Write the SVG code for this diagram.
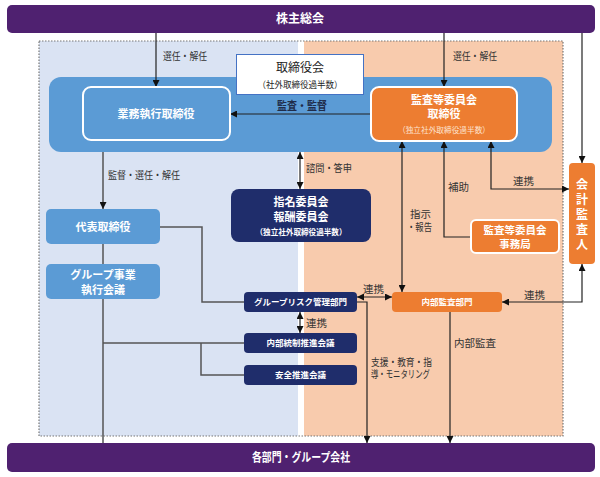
<svg xmlns="http://www.w3.org/2000/svg" width="600" height="477" viewBox="0 0 600 477">
<defs>
<marker id="ah" viewBox="0 0 10 10" refX="10" refY="5" markerWidth="7" markerHeight="7" markerUnits="userSpaceOnUse" orient="auto-start-reverse"><path d="M0,0 L10,5 L0,10 z" fill="#111"/></marker>
<style>
text{font-family:"Noto Sans CJK JP","Noto Sans",sans-serif;}
.bar{fill:#4f2170;}
.bt{fill:#fff;font-weight:bold;font-size:12px;text-anchor:middle;}
.wt{fill:#fff;font-weight:bold;text-anchor:middle;}
.lbl{fill:#333;font-size:10.5px;}
.ln{fill:none;stroke:#222;stroke-width:1.2;}
.gl{fill:none;stroke:#555;stroke-width:1.5;}
.blue{fill:#5b9bd5;}
.org{fill:#ed7d31;}
.navy{fill:#1f2d6b;}
</style>
</defs>
<rect width="600" height="477" fill="#fff"/>
<rect x="39" y="41" width="259" height="395" fill="#dae3f3"/>
<rect x="304" y="41" width="259" height="395" fill="#f8cbad"/>
<rect x="39" y="41" width="524" height="395" fill="none" stroke="#777" stroke-width="1.2" stroke-dasharray="1.5,1.5"/>
<rect x="49" y="77" width="503" height="75" rx="12" class="blue"/>

<g id="connectors">
<line class="ln" x1="156" y1="33" x2="156" y2="87" marker-end="url(#ah)"/>
<line class="ln" x1="444" y1="33" x2="444" y2="87" marker-end="url(#ah)"/>
<line class="ln" x1="582" y1="33" x2="582" y2="163" marker-end="url(#ah)"/>
<line class="ln" x1="371" y1="114" x2="230" y2="114" marker-end="url(#ah)"/>
<line class="ln" x1="300" y1="152" x2="300" y2="189" marker-start="url(#ah)" marker-end="url(#ah)"/>
<line class="gl" x1="103" y1="152" x2="103" y2="209" marker-end="url(#ah)"/>
<line class="ln" x1="402" y1="141" x2="402" y2="292" marker-start="url(#ah)" marker-end="url(#ah)"/>
<polyline class="ln" points="471,237 444,237 444,141" marker-end="url(#ah)"/>
<polyline class="ln" points="491,141 491,189 569,189" marker-start="url(#ah)" marker-end="url(#ah)"/>
<polyline class="ln" points="582,264 582,302 502,302" marker-start="url(#ah)" marker-end="url(#ah)"/>
<line class="ln" x1="357" y1="297" x2="392" y2="297" marker-start="url(#ah)" marker-end="url(#ah)"/>
<line class="ln" x1="300" y1="312" x2="300" y2="333" marker-start="url(#ah)" marker-end="url(#ah)"/>
<polyline class="ln" points="357,302 367,302 367,443" marker-end="url(#ah)"/>
<line class="ln" x1="450" y1="312" x2="450" y2="443" marker-end="url(#ah)"/>
<line class="gl" x1="103" y1="244" x2="103" y2="264"/>
<line class="gl" x1="103" y1="299" x2="103" y2="443"/>
<polyline class="gl" points="160,227 202,227 202,302 244,302"/>
<line class="gl" x1="103" y1="343" x2="244" y2="343"/>
<polyline class="gl" points="201,343 201,375 244,375"/>
</g>

<g id="labels">
<text class="lbl" x="163" y="60" textLength="44" lengthAdjust="spacingAndGlyphs">選任・解任</text>
<text class="lbl" x="453" y="60" textLength="44" lengthAdjust="spacingAndGlyphs">選任・解任</text>
<text x="277" y="110" textLength="50" lengthAdjust="spacingAndGlyphs" style="fill:#1f2d4b;font-size:11px;font-weight:bold">監査・監督</text>
<text class="lbl" x="306" y="172" textLength="46" lengthAdjust="spacingAndGlyphs">諮問・答申</text>
<text class="lbl" x="108" y="179" textLength="72" lengthAdjust="spacingAndGlyphs">監督・選任・解任</text>
<text class="lbl" x="448" y="191">補助</text>
<text class="lbl" x="513" y="185">連携</text>
<text class="lbl" x="410" y="218" font-size="10">指示</text>
<text class="lbl" x="407" y="231" font-size="10" textLength="25" lengthAdjust="spacingAndGlyphs">・報告</text>
<text class="lbl" x="524" y="299">連携</text>
<text class="lbl" x="363" y="293">連携</text>
<text class="lbl" x="306" y="327">連携</text>
<text class="lbl" x="454" y="347">内部監査</text>
<text class="lbl" x="371" y="366" font-size="10" textLength="61" lengthAdjust="spacingAndGlyphs">支援・教育・指</text>
<text class="lbl" x="371" y="378" font-size="10" textLength="59" lengthAdjust="spacingAndGlyphs">導・モニタリング</text>
</g>

<g id="shareholders">
<rect x="7" y="5" width="588" height="28" rx="5" class="bar"/>
<text class="bt" x="300" y="23">株主総会</text>
</g>
<g id="all-departments">
<rect x="7" y="443" width="588" height="29" rx="5" class="bar"/>
<text class="bt" x="301" y="462" textLength="98" lengthAdjust="spacingAndGlyphs">各部門・グループ会社</text>
</g>
<g id="board">
<rect x="236.5" y="54.5" width="127" height="40" fill="#fff" stroke="#4472c4" stroke-width="1"/>
<text x="300" y="72" style="fill:#222;font-size:12px;text-anchor:middle">取締役会</text>
<text x="300" y="88" textLength="85" lengthAdjust="spacingAndGlyphs" style="fill:#222;font-size:9px;text-anchor:middle">（社外取締役過半数）</text>
</g>
<g id="exec-directors">
<rect x="83" y="87" width="147" height="53" rx="8" class="blue" stroke="#fff" stroke-width="2"/>
<text class="wt" x="156" y="118" font-size="11">業務執行取締役</text>
</g>
<g id="audit-directors">
<rect x="371" y="87" width="146" height="54" rx="8" class="org" stroke="#fff" stroke-width="2"/>
<text class="wt" x="444" y="104" font-size="11">監査等委員会</text>
<text class="wt" x="444" y="118" font-size="11">取締役</text>
<text x="444" y="133" textLength="92" lengthAdjust="spacingAndGlyphs" style="fill:#fde3d0;font-size:8px;text-anchor:middle">（独立社外取締役過半数）</text>
</g>
<g id="nomination">
<rect x="231" y="189" width="140" height="53" rx="8" class="navy"/>
<text class="wt" x="301" y="206" font-size="11">指名委員会</text>
<text class="wt" x="301" y="221" font-size="11">報酬委員会</text>
<text class="wt" x="301" y="235" font-size="8" textLength="91" lengthAdjust="spacingAndGlyphs">（独立社外取締役過半数）</text>
</g>
<g id="auditor">
<rect x="569" y="163" width="26" height="101" rx="4" class="org"/>
<text class="wt" font-size="12"><tspan x="582" y="189">会</tspan><tspan x="582" y="204">計</tspan><tspan x="582" y="219">監</tspan><tspan x="582" y="234">査</tspan><tspan x="582" y="249">人</tspan></text>
</g>
<g id="audit-office">
<rect x="471" y="220" width="88" height="33" rx="5" class="org" stroke="#fff" stroke-width="2"/>
<text class="wt" x="515" y="234" font-size="10.5">監査等委員会</text>
<text class="wt" x="515" y="248" font-size="10.5">事務局</text>
</g>
<g id="ceo">
<rect x="46" y="209" width="114" height="35" rx="5" class="blue"/>
<text class="wt" x="103" y="231" font-size="11">代表取締役</text>
</g>
<g id="group-exec">
<rect x="46" y="264" width="114" height="35" rx="5" class="blue"/>
<text class="wt" x="103" y="279" font-size="11">グループ事業</text>
<text class="wt" x="103" y="294" font-size="11">執行会議</text>
</g>
<g id="risk">
<rect x="244" y="292" width="113" height="20" rx="4" class="navy"/>
<text class="wt" x="300.5" y="305" font-size="8.5">グループリスク管理部門</text>
</g>
<g id="internal-control">
<rect x="244" y="333" width="113" height="20" rx="4" class="navy"/>
<text class="wt" x="300.5" y="346" font-size="8.5">内部統制推進会議</text>
</g>
<g id="safety">
<rect x="244" y="365" width="113" height="20" rx="4" class="navy"/>
<text class="wt" x="300.5" y="378" font-size="8.5">安全推進会議</text>
</g>
<g id="internal-audit">
<rect x="392" y="292" width="110" height="20" rx="4" class="org"/>
<text class="wt" x="447" y="305" font-size="8.5">内部監査部門</text>
</g>
</svg>
